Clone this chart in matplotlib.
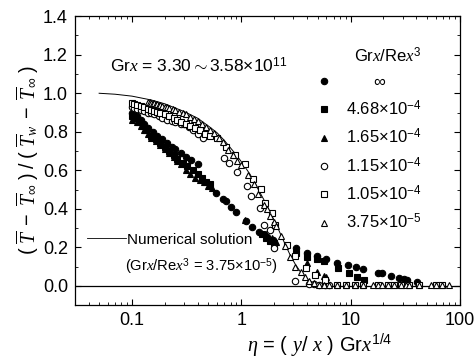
import matplotlib
matplotlib.use("Agg")
import matplotlib.pyplot as plt
from matplotlib.lines import Line2D
from matplotlib.ticker import MultipleLocator, FixedLocator, FixedFormatter

plt.rcParams['font.family'] = ['Liberation Sans', 'DejaVu Sans']
plt.rcParams['mathtext.fontset'] = 'custom'
plt.rcParams['mathtext.rm'] = 'Liberation Sans'
plt.rcParams['mathtext.it'] = 'Liberation Serif:italic'
plt.rcParams['mathtext.bf'] = 'Liberation Sans:bold'

# numerical solution (Grx/Rex^3 = 3.75e-5)
eta_num = [0.05, 0.07, 0.1, 0.15, 0.2, 0.3, 0.4, 0.5, 0.6, 0.7, 0.8, 0.9, 1.0,
           1.2, 1.4, 1.6, 1.8, 2.0, 2.2, 2.5, 2.8, 3.1, 3.5, 4.0, 4.5, 5.0, 6.0]
t_num = [1.0, 0.995, 0.985, 0.965, 0.945, 0.905, 0.87, 0.83, 0.795, 0.755, 0.715,
         0.68, 0.645, 0.58, 0.51, 0.45, 0.39, 0.34, 0.29, 0.22, 0.16, 0.115, 0.07,
         0.035, 0.015, 0.006, 0.0]

# Grx/Rex^3 = infinity (filled circles)
eta_inf = [0.10, 0.11, 0.12, 0.13, 0.14, 0.155, 0.17, 0.19, 0.21, 0.23, 0.25, 0.28,
           0.31, 0.345, 0.40, 0.59, 0.68, 0.72, 0.81, 0.89, 1.1, 1.25, 1.45, 1.72,
           1.97, 3.2, 4.0, 4.9, 6.0, 7.5, 9.5, 11.2, 13.0, 17.8, 19.5, 23.7, 28.0,
           31.0, 33.0, 41.0]
t_inf = [0.90, 0.88, 0.86, 0.84, 0.82, 0.80, 0.78, 0.76, 0.74, 0.72, 0.71, 0.69,
         0.67, 0.655, 0.63, 0.484, 0.452, 0.44, 0.41, 0.385, 0.335, 0.306, 0.28,
         0.254, 0.24, 0.197, 0.17, 0.156, 0.139, 0.118, 0.109, 0.10, 0.087, 0.068,
         0.066, 0.052, 0.042, 0.035, 0.03, 0.022]

# 4.68e-4 (filled squares)
eta_468 = [0.10, 0.105, 0.115, 0.125, 0.135, 0.15, 0.165, 0.18, 0.2, 0.22, 0.24,
           0.26, 0.29, 0.32, 0.36, 0.40, 0.44, 0.48, 0.52, 1.55, 1.7, 1.85, 2.0,
           3.2, 4.0, 4.9, 5.7, 7.6, 9.6, 11.4, 13.2]
t_468 = [0.88, 0.87, 0.85, 0.83, 0.81, 0.78, 0.76, 0.74, 0.72, 0.70, 0.68, 0.66,
         0.64, 0.62, 0.60, 0.58, 0.56, 0.54, 0.53, 0.27, 0.25, 0.235, 0.22, 0.17,
         0.15, 0.14, 0.127, 0.092, 0.066, 0.045, 0.028]

# 1.65e-4 (filled triangles)
eta_165 = [0.10, 0.11, 0.12, 0.13, 0.14, 0.15, 0.165, 0.18, 0.2, 0.22, 0.24, 0.26,
           0.28, 0.31, 0.34, 0.38, 0.42, 0.46, 0.50, 0.54, 1.09, 1.7, 1.9, 2.1,
           4.0, 4.9, 5.7, 6.0]
t_165 = [0.86, 0.85, 0.83, 0.81, 0.79, 0.77, 0.75, 0.73, 0.71, 0.69, 0.67, 0.65,
         0.63, 0.60, 0.58, 0.56, 0.55, 0.54, 0.52, 0.51, 0.344, 0.267, 0.25, 0.23,
         0.12, 0.07, 0.049, 0.045]

# 1.15e-4 (open circles)
eta_115 = [0.10, 0.105, 0.11, 0.12, 0.13, 0.14, 0.15, 0.16, 0.175, 0.19, 0.21, 0.23,
           0.25, 0.28, 0.30, 0.33, 0.36, 0.40, 0.45, 0.69, 0.78, 0.92, 1.14, 1.24,
           1.48, 1.6, 1.83, 2.0, 3.1, 4.2, 4.6, 5.2, 5.8, 6.4]
t_115 = [0.93, 0.925, 0.92, 0.915, 0.91, 0.90, 0.895, 0.89, 0.88, 0.87, 0.86, 0.855,
         0.85, 0.84, 0.84, 0.825, 0.81, 0.79, 0.77, 0.666, 0.636, 0.59, 0.52, 0.466,
         0.405, 0.318, 0.29, 0.196, 0.025, 0.01, 0.008, 0.005, 0.004, 0.003]

# 1.05e-4 (open squares)
eta_105 = [0.10, 0.105, 0.11, 0.12, 0.13, 0.14, 0.15, 0.16, 0.17, 0.18, 0.2, 0.22,
           0.24, 0.26, 0.28, 0.31, 0.34, 0.38, 0.42, 0.47, 0.52, 0.6, 0.73, 0.875,
           1.08, 1.27, 1.5, 1.65, 1.9, 2.05, 2.6, 3.1, 3.9, 4.7, 5.8, 7.5, 9.0,
           10.9, 12.9, 18.0, 21.8, 25.0, 29.0, 34.5, 42.5, 60.0, 69.0]
t_105 = [0.95, 0.945, 0.94, 0.935, 0.93, 0.92, 0.915, 0.91, 0.905, 0.90, 0.89, 0.88,
         0.87, 0.86, 0.85, 0.84, 0.83, 0.82, 0.81, 0.79, 0.78, 0.767, 0.72, 0.68,
         0.63, 0.553, 0.504, 0.43, 0.38, 0.318, 0.21, 0.153, 0.09, 0.055, 0.03,
         0.005, 0.003, 0.003, 0.003, 0.003, 0.003, 0.003, 0.003, 0.003, 0.003,
         0.003, 0.003]

# 3.75e-5 (open triangles)
eta_375 = [0.14, 0.145, 0.15, 0.155, 0.16, 0.165, 0.17, 0.175, 0.18, 0.19, 0.2, 0.21,
           0.22, 0.235, 0.25, 0.27, 0.29, 0.31, 0.34, 0.37, 0.4, 0.44, 0.48, 0.52,
           0.56, 0.62, 0.68, 0.76, 0.84, 0.92, 1.0, 1.16, 1.3, 1.43, 1.6, 1.71, 1.85,
           2.0, 2.1, 2.3, 2.5, 2.8, 3.1, 3.5, 3.85, 4.2, 4.6, 5.2, 5.7, 6.4, 7.5, 9.0,
           10.9, 12.9, 15.9, 18.0, 19.6, 21.8, 25.0, 29.0, 32.0, 34.5, 42.5, 54.0,
           60.0, 69.0, 80.0]
t_375 = [0.955, 0.953, 0.951, 0.949, 0.947, 0.945, 0.943, 0.941, 0.939, 0.935, 0.931,
         0.927, 0.923, 0.918, 0.912, 0.905, 0.897, 0.89, 0.878, 0.866, 0.855, 0.84,
         0.825, 0.81, 0.795, 0.77, 0.745, 0.705, 0.68, 0.65, 0.625, 0.574, 0.53,
         0.477, 0.42, 0.40, 0.36, 0.33, 0.31, 0.26, 0.205, 0.15, 0.10, 0.07, 0.047,
         0.025, 0.012, 0.005, 0.003, 0.002, 0.002, 0.002, 0.002, 0.002, 0.002,
         0.002, 0.002, 0.002, 0.002, 0.002, 0.002, 0.002, 0.002, 0.002, 0.002,
         0.002, 0.002]

labels = [r'      $\infty$', r'4.68$\times$10$^{-4}$', r'1.65$\times$10$^{-4}$',
          r'1.15$\times$10$^{-4}$', r'1.05$\times$10$^{-4}$', r'3.75$\times$10$^{-5}$']

fig = plt.figure(figsize=(4.74, 3.61), dpi=100)
ax = fig.add_axes([0.158, 0.155, 0.812, 0.80])

ax.axhline(0, color='black', lw=0.9)
ax.plot(eta_num, t_num, color='black', lw=0.7)

ms = 4.6
series = [
    (eta_inf, t_inf, 'o', 'black'),
    (eta_468, t_468, 's', 'black'),
    (eta_165, t_165, '^', 'black'),
    (eta_115, t_115, 'o', 'white'),
    (eta_105, t_105, 's', 'white'),
    (eta_375, t_375, '^', 'white'),
]
handles = []
for (ex, ty, mk, fc), lab in zip(series, labels):
    h, = ax.plot(ex, ty, linestyle='none', marker=mk, ms=ms, mfc=fc, mec='black',
                 mew=0.8, label=lab)
    handles.append(h)

ax.set_xscale('log')
ax.set_xlim(0.03, 100)
ax.set_ylim(-0.1, 1.4)
ax.xaxis.set_major_locator(FixedLocator([0.1, 1, 10, 100]))
ax.xaxis.set_major_formatter(FixedFormatter(['0.1', '1', '10', '100']))
ax.yaxis.set_major_locator(MultipleLocator(0.2))
ax.yaxis.set_minor_locator(MultipleLocator(0.1))
ax.yaxis.set_major_formatter(matplotlib.ticker.FormatStrFormatter('%.1f'))
ax.tick_params(which='both', direction='in', top=True, right=True, labelsize=13)
ax.tick_params(which='major', length=4, width=0.8, pad=5)
ax.tick_params(which='minor', length=2, width=0.6)
for s in ax.spines.values():
    s.set_linewidth(0.9)

leg = ax.legend(handles=handles, title=r'Gr$x$/Re$x^3$', loc='upper left',
                bbox_to_anchor=(0.6, 0.93), frameon=False, fontsize=12,
                title_fontsize=12, handlelength=1.0, handletextpad=0.8,
                labelspacing=0.55, borderaxespad=0.2)
leg._legend_box.align = 'right'

num_key = Line2D([], [], color='black', lw=0.6)
leg2 = ax.legend(handles=[num_key], labels=['Numerical solution'], loc='upper left',
                 bbox_to_anchor=(-0.005, 0.298), frameon=False, fontsize=11,
                 handlelength=2.6, handletextpad=0.05)
ax.add_artist(leg)

ax.text(0.13, 0.135, r'(Gr$x$/Re$x^3$ = 3.75$\times$10$^{-5}$)', transform=ax.transAxes,
        fontsize=10.6, ha='left', va='center')
ax.text(0.09, 0.83, r'Gr$x$ = 3.30$\sim$3.58$\times$10$^{11}$', transform=ax.transAxes,
        fontsize=12.5, ha='left', va='center')

ax.set_ylabel(r'$(\ \overline{T}\ -\ \overline{T}_\infty\ )\ /\ (\ \overline{T}_w\ -\ \overline{T}_\infty\ )$',
              fontsize=14.2, labelpad=1)
ax.set_xlabel(r'$\eta$ = ( $y$/ $x$ ) Gr$x^{1/4}$', fontsize=14.5, labelpad=2, x=0.635)

fig.savefig('out.png', dpi=100)
